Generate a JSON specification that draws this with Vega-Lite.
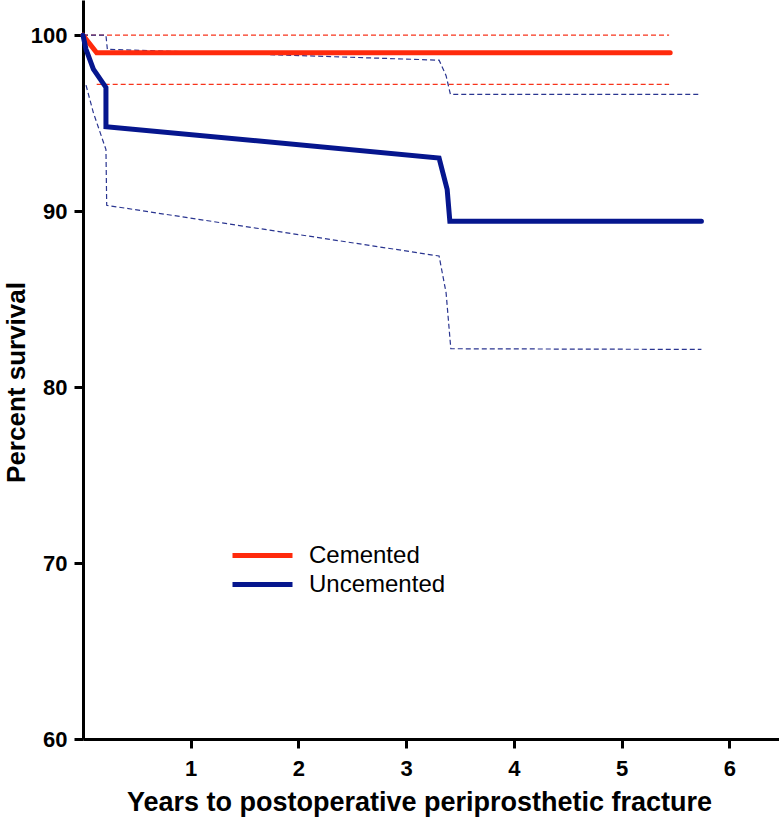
{
  "$schema": "https://vega.github.io/schema/vega-lite/v6.json",
  "width": 696,
  "height": 739,
  "autosize": {"type": "none"},
  "padding": {"left": 83, "top": 0, "right": 0, "bottom": 82},
  "background": "white",
  "config": {
    "view": {"stroke": null},
    "font": "Liberation Sans",
    "axis": {
      "domainColor": "black", "domainWidth": 3, "tickColor": "black", "tickWidth": 3, "tickSize": 9,
      "labelFont": "Liberation Sans", "labelFontWeight": "bold", "labelFontSize": 22, "labelColor": "black",
      "titleFont": "Liberation Sans", "titleFontWeight": "bold", "titleFontSize": 27, "titleColor": "black",
      "grid": false
    },
    "legend": {
      "orient": "none", "legendX": 167, "legendY": 543,
      "symbolType": "M-3,0L3,0", "symbolSize": 400, "symbolStrokeWidth": 5,
      "labelFont": "Liberation Sans", "labelFontSize": 24, "labelColor": "black", "labelOffset": 34,
      "rowPadding": 4, "title": null
    }
  },
  "data": {
    "values": [
      {"group": "Cemented", "line": "C_est", "kind": "est", "o": 1, "x": 0, "y": 100},
      {"group": "Cemented", "line": "C_est", "kind": "est", "o": 2, "x": 0.127, "y": 99.0},
      {"group": "Cemented", "line": "C_est", "kind": "est", "o": 3, "x": 5.45, "y": 99.0},
      {"group": "Cemented", "line": "C_hi", "kind": "ci", "o": 1, "x": 0, "y": 100},
      {"group": "Cemented", "line": "C_hi", "kind": "ci", "o": 2, "x": 5.44, "y": 100},
      {"group": "Cemented", "line": "C_lo", "kind": "ci", "o": 1, "x": 0.127, "y": 97.2},
      {"group": "Cemented", "line": "C_lo", "kind": "ci", "o": 2, "x": 5.44, "y": 97.2},
      {"group": "Uncemented", "line": "U_est", "kind": "est", "o": 1, "x": 0, "y": 100},
      {"group": "Uncemented", "line": "U_est", "kind": "est", "o": 2, "x": 0.028, "y": 99.2},
      {"group": "Uncemented", "line": "U_est", "kind": "est", "o": 3, "x": 0.096, "y": 98.07},
      {"group": "Uncemented", "line": "U_est", "kind": "est", "o": 4, "x": 0.213, "y": 97.03},
      {"group": "Uncemented", "line": "U_est", "kind": "est", "o": 5, "x": 0.213, "y": 94.8},
      {"group": "Uncemented", "line": "U_est", "kind": "est", "o": 6, "x": 3.305, "y": 93.02},
      {"group": "Uncemented", "line": "U_est", "kind": "est", "o": 7, "x": 3.38, "y": 91.24},
      {"group": "Uncemented", "line": "U_est", "kind": "est", "o": 8, "x": 3.405, "y": 89.42},
      {"group": "Uncemented", "line": "U_est", "kind": "est", "o": 9, "x": 5.74, "y": 89.42},
      {"group": "Uncemented", "line": "U_hi", "kind": "ci", "o": 1, "x": 0, "y": 100},
      {"group": "Uncemented", "line": "U_hi", "kind": "ci", "o": 2, "x": 0.213, "y": 100},
      {"group": "Uncemented", "line": "U_hi", "kind": "ci", "o": 3, "x": 0.226, "y": 99.2},
      {"group": "Uncemented", "line": "U_hi", "kind": "ci", "o": 4, "x": 3.305, "y": 98.58},
      {"group": "Uncemented", "line": "U_hi", "kind": "ci", "o": 5, "x": 3.37, "y": 97.7},
      {"group": "Uncemented", "line": "U_hi", "kind": "ci", "o": 6, "x": 3.41, "y": 96.64},
      {"group": "Uncemented", "line": "U_hi", "kind": "ci", "o": 7, "x": 5.72, "y": 96.64},
      {"group": "Uncemented", "line": "U_lo", "kind": "ci", "o": 1, "x": 0.028, "y": 97.16},
      {"group": "Uncemented", "line": "U_lo", "kind": "ci", "o": 2, "x": 0.096, "y": 95.6},
      {"group": "Uncemented", "line": "U_lo", "kind": "ci", "o": 3, "x": 0.213, "y": 93.5},
      {"group": "Uncemented", "line": "U_lo", "kind": "ci", "o": 4, "x": 0.22, "y": 90.33},
      {"group": "Uncemented", "line": "U_lo", "kind": "ci", "o": 5, "x": 3.305, "y": 87.45},
      {"group": "Uncemented", "line": "U_lo", "kind": "ci", "o": 6, "x": 3.37, "y": 85.36},
      {"group": "Uncemented", "line": "U_lo", "kind": "ci", "o": 7, "x": 3.414, "y": 82.18},
      {"group": "Uncemented", "line": "U_lo", "kind": "ci", "o": 8, "x": 5.74, "y": 82.14}
    ]
  },
  "encoding": {
    "x": {
      "field": "x", "type": "quantitative",
      "scale": {"domain": [0, 6.46], "nice": false, "zero": false},
      "axis": {"values": [1, 2, 3, 4, 5, 6], "title": "Years to postoperative periprosthetic fracture", "labelPadding": 10, "titlePadding": 10, "titleX": 336}
    },
    "y": {
      "field": "y", "type": "quantitative",
      "scale": {"domain": [60, 102], "nice": false, "zero": false},
      "axis": {"values": [60, 70, 80, 90, 100], "title": "Percent survival", "labelPadding": 7, "titlePadding": 1, "titleFontSize": 26, "titleY": 382}
    },
    "order": {"field": "o", "type": "quantitative"}
  },
  "layer": [
    {
      "transform": [{"filter": "datum.kind === 'ci'"}],
      "mark": {"type": "line", "strokeWidth": 1.2, "strokeDash": [5, 3]},
      "encoding": {
        "detail": {"field": "line"},
        "color": {"field": "group", "type": "nominal", "scale": {"domain": ["Cemented", "Uncemented"], "range": ["#f7341c", "#2a3590"]}, "legend": null}
      }
    },
    {
      "transform": [{"filter": "datum.kind === 'est'"}],
      "mark": {"type": "line", "strokeWidth": 5, "strokeCap": "round", "strokeJoin": "miter"},
      "encoding": {
        "color": {"field": "group", "type": "nominal", "scale": {"domain": ["Cemented", "Uncemented"], "range": ["#ff2a0c", "#06168e"]}, "legend": {}}
      }
    }
  ],
  "resolve": {"scale": {"color": "independent"}}
}
